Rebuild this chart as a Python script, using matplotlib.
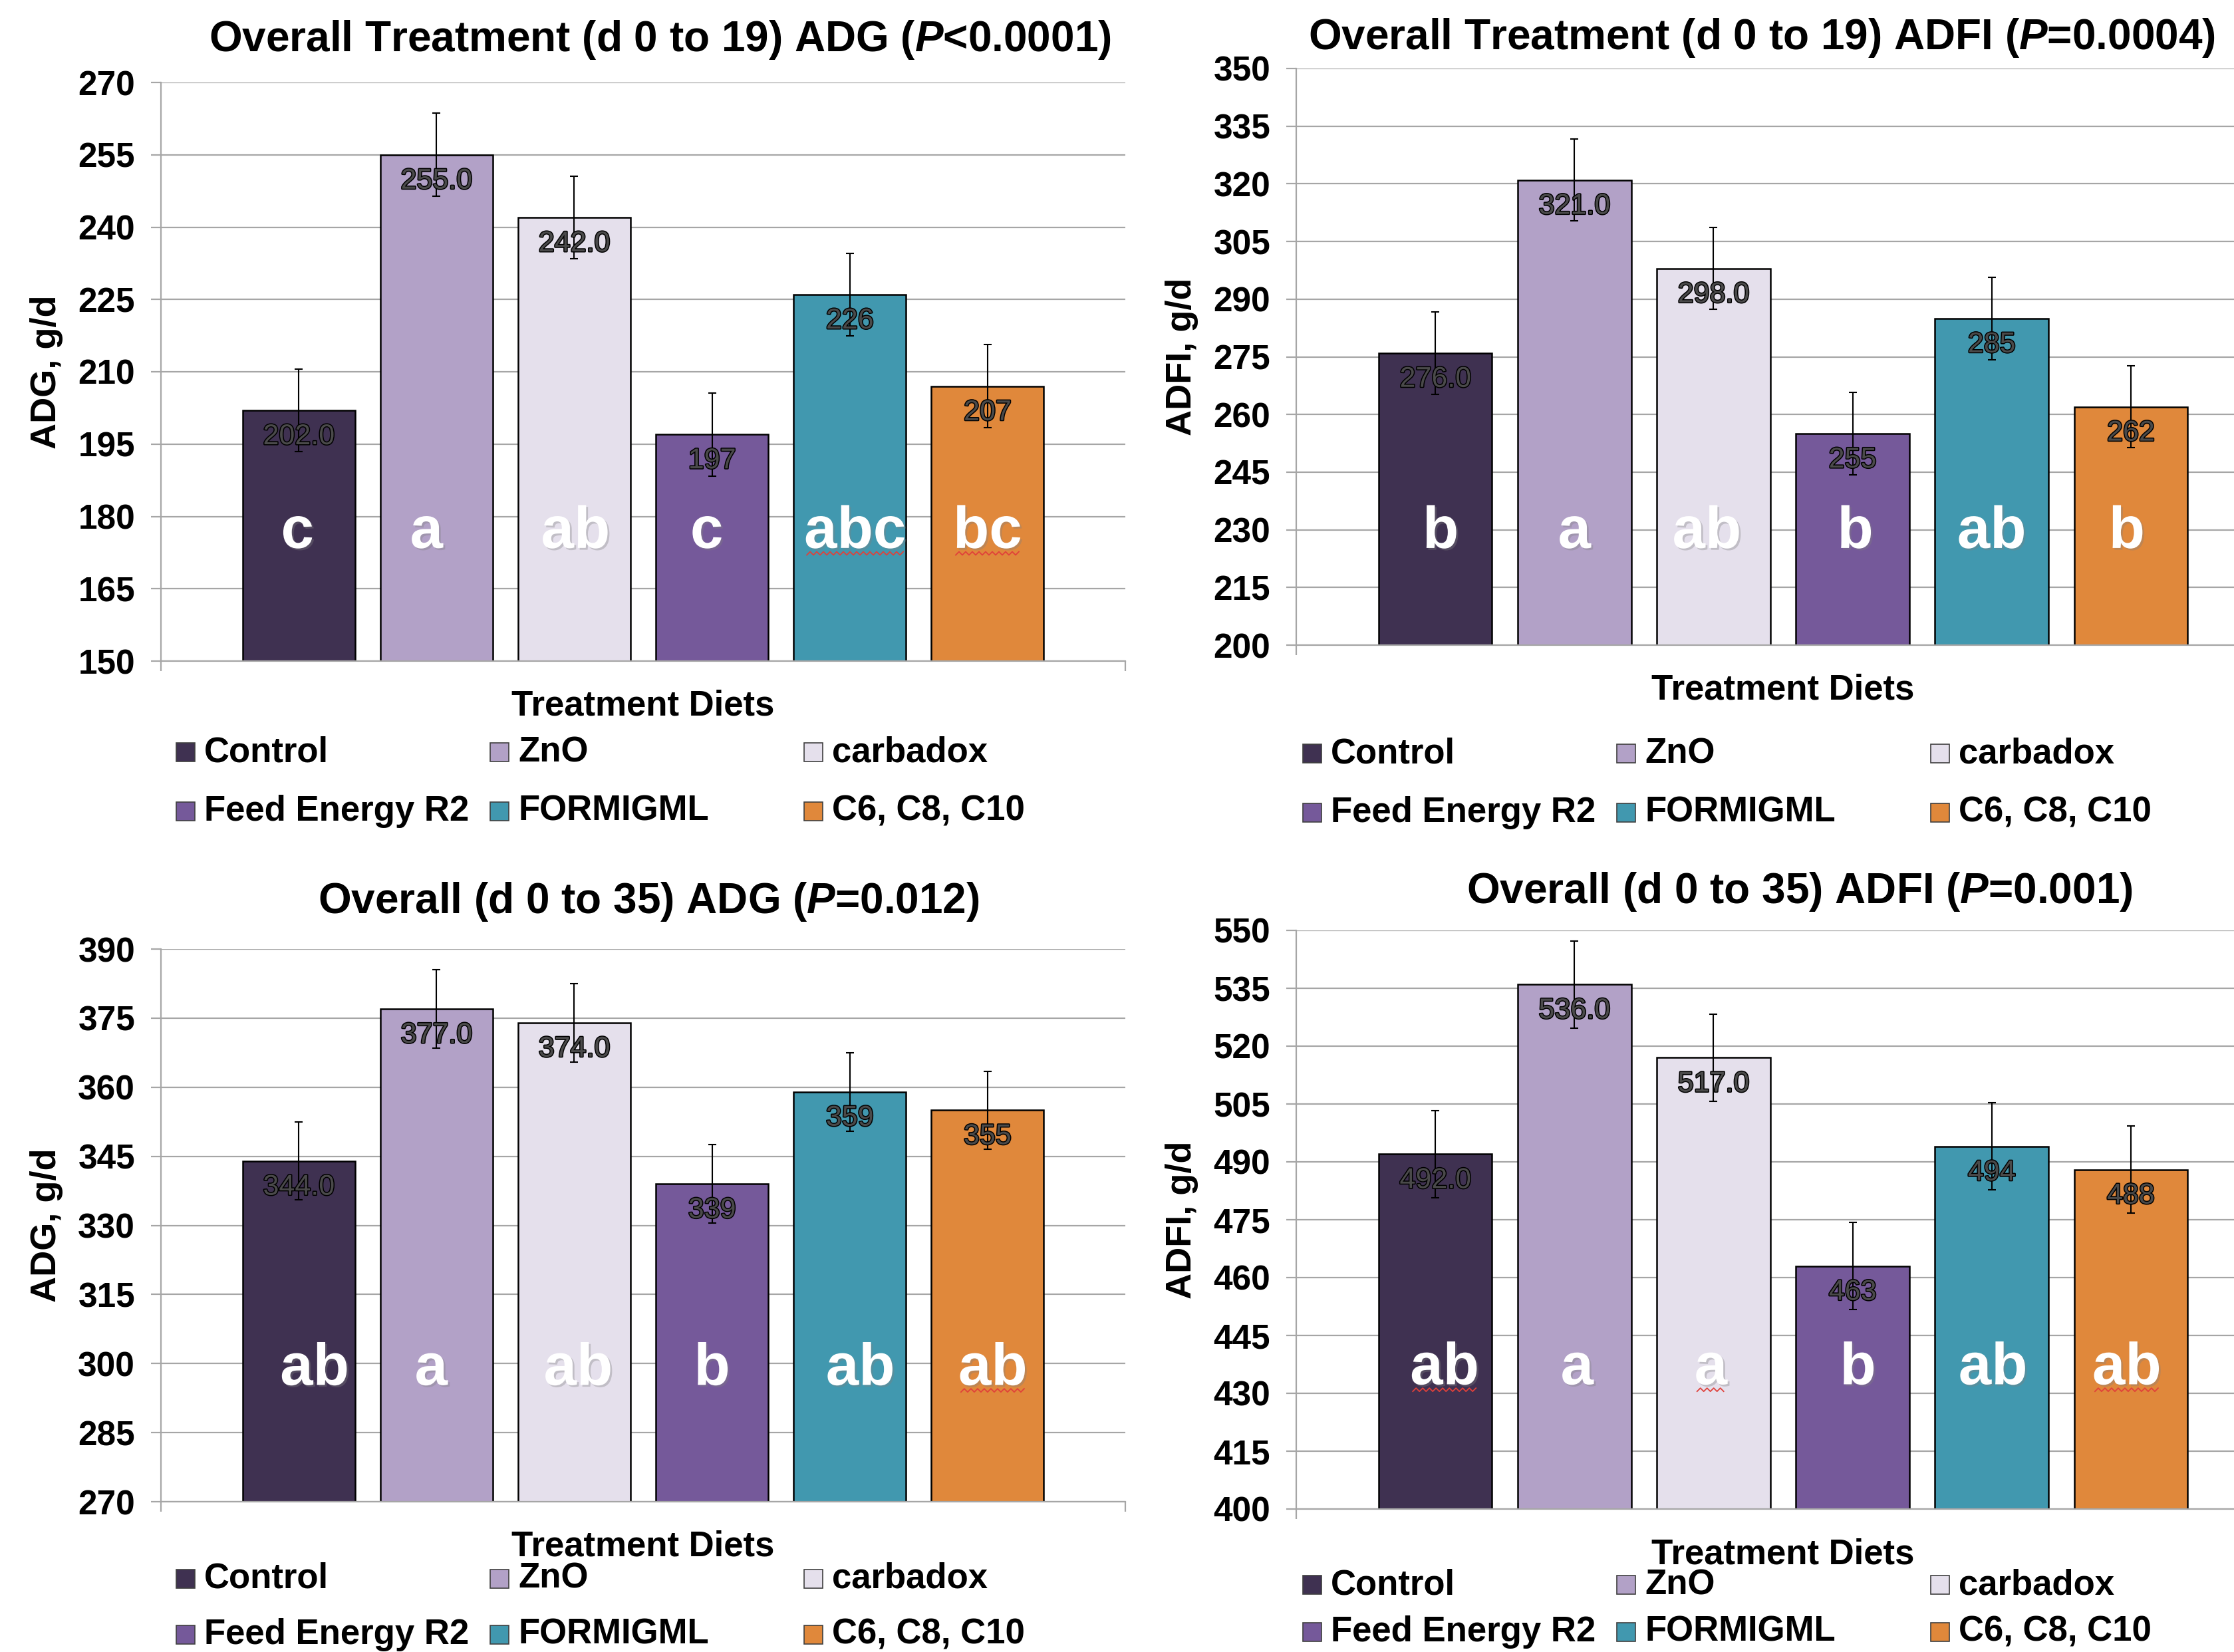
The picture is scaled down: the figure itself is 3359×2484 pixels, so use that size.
import matplotlib
matplotlib.use("Agg")
import matplotlib.pyplot as plt
from matplotlib import font_manager
from matplotlib.patches import Rectangle
from matplotlib.lines import Line2D
import matplotlib.patheffects as pe
import matplotlib.transforms as mtrans

# ---- fonts -------------------------------------------------------------
def pick_family(cands):
    for name in cands:
        try:
            font_manager.findfont(font_manager.FontProperties(family=name),
                                  fallback_to_default=False)
            return name
        except Exception:
            continue
    return "DejaVu Sans"

SANS = pick_family(["Liberation Sans", "Arial"])
plt.rcParams["font.family"] = [SANS, "DejaVu Sans"]
plt.rcParams["font.weight"] = "bold"
plt.rcParams["mathtext.fontset"] = "custom"
plt.rcParams["mathtext.it"] = f"{SANS}:italic:bold"
plt.rcParams["mathtext.rm"] = f"{SANS}:bold"

# ---- data --------------------------------------------------------------
treatments = ["Control", "ZnO", "carbadox", "Feed Energy R2", "FORMIGML", "C6, C8, C10"]
colors = ["#3f3151", "#b2a1c7", "#e5e0ec", "#75599a", "#4198af", "#e0883b"]

adg_0_19 = [202.0, 255.0, 242.0, 197, 226, 207]
adg_0_19_labels = ["202.0", "255.0", "242.0", "197", "226", "207"]
adg_0_19_sem = 8.6
adg_0_19_letters = ["c", "a", "ab", "c", "abc", "bc"]

adfi_0_19 = [276.0, 321.0, 298.0, 255, 285, 262]
adfi_0_19_labels = ["276.0", "321.0", "298.0", "255", "285", "262"]
adfi_0_19_sem = 10.7
adfi_0_19_letters = ["b", "a", "ab", "b", "ab", "b"]

adg_0_35 = [344.0, 377.0, 374.0, 339, 359, 355]
adg_0_35_labels = ["344.0", "377.0", "374.0", "339", "359", "355"]
adg_0_35_sem = 8.5
adg_0_35_letters = ["ab", "a", "ab", "b", "ab", "ab"]

adfi_0_35 = [492.0, 536.0, 517.0, 463, 494, 488]
adfi_0_35_labels = ["492.0", "536.0", "517.0", "463", "494", "488"]
adfi_0_35_sem = 11.3
adfi_0_35_letters = ["ab", "a", "a", "b", "ab", "ab"]

# ---- figure ------------------------------------------------------------
W, H = 3359, 2484
DPI = 100
fig = plt.figure(figsize=(W / DPI, H / DPI), dpi=DPI, facecolor="white")


def box(left, top, right, bottom):
    return [left / W, 1 - bottom / H, (right - left) / W, (bottom - top) / H]


panels = [
    dict(rect=box(242, 124, 1692, 994), values=adg_0_19, labels=adg_0_19_labels,
         sem=adg_0_19_sem, letters=adg_0_19_letters, ylim=(150, 270),
         ylabel="ADG, g/d", title="Overall Treatment (d 0 to 19) ADG ($P$<0.0001)",
         title_xy=(992, 60), letter_y=0.222, letter_dx=[-2, -15, 2, -8, 8, 0],
         squiggle=[False, False, False, False, True, True],
         leg_rows=(137, 226), leg_dx=65),
    dict(rect=box(1949, 103, 3413, 970), values=adfi_0_19, labels=adfi_0_19_labels,
         sem=adfi_0_19_sem, letters=adfi_0_19_letters, ylim=(200, 350),
         ylabel="ADFI, g/d", title="Overall Treatment (d 0 to 19) ADFI ($P$=0.0004)",
         title_xy=(2649, 57), letter_y=0.195, letter_dx=[8, 0, -10, 4, 0, -6],
         squiggle=[False] * 6,
         leg_rows=(163, 252), leg_dx=52),
    dict(rect=box(242, 1427, 1692, 2258), values=adg_0_35, labels=adg_0_35_labels,
         sem=adg_0_35_sem, letters=adg_0_35_letters, ylim=(270, 390),
         ylabel="ADG, g/d", title="Overall (d 0 to 35) ADG ($P$=0.012)",
         title_xy=(975, 1356), letter_y=0.239, letter_dx=[24, -8, 6, 0, 16, 8],
         squiggle=[False, False, False, False, False, True],
         leg_rows=(116, 200), leg_dx=65),
    dict(rect=box(1949, 1399, 3413, 2269), values=adfi_0_35, labels=adfi_0_35_labels,
         sem=adfi_0_35_sem, letters=adfi_0_35_letters, ylim=(400, 550),
         ylabel="ADFI, g/d", title="Overall (d 0 to 35) ADFI ($P$=0.001)",
         title_xy=(2706, 1341), letter_y=0.242, letter_dx=[14, 4, -4, 8, 2, -6],
         squiggle=[True, False, True, False, False, True],
         leg_rows=(114, 185), leg_dx=52),
]

GRID = "#a6a6a6"
positions = list(range(1, len(treatments) + 1))
flagged_letters = []

for p in panels:
    ax = fig.add_axes(p["rect"])
    ax.set_facecolor("white")
    ax.set_xlim(0, len(treatments) + 1)
    ax.set_ylim(*p["ylim"])
    ax.set_yticks(range(p["ylim"][0], p["ylim"][1] + 1, 15))
    ax.yaxis.grid(True, color=GRID, linewidth=1.6)
    ax.set_axisbelow(True)
    for side in ("top", "right"):
        ax.spines[side].set_visible(False)
    for side in ("left", "bottom"):
        ax.spines[side].set_color(GRID)
        ax.spines[side].set_linewidth(1.6)
    ax.tick_params(axis="y", length=11, width=1.6, color=GRID, pad=17,
                   labelsize=37)
    ax.set_xticks([0, len(treatments) + 1])
    ax.set_xticklabels(["", ""])
    ax.tick_params(axis="x", length=11, width=1.6, color=GRID)
    for t in ax.get_yticklabels():
        t.set_fontweight("bold")

    ax.bar(positions, p["values"], width=0.815, color=colors,
           edgecolor="black", linewidth=1.8, zorder=2)
    ax.errorbar(positions, p["values"], yerr=p["sem"], fmt="none",
                ecolor="black", elinewidth=1.5, capsize=4, capthick=1.5, zorder=3)

    # values printed just inside each bar top
    for x, v, lab in zip(positions, p["values"], p["labels"]):
        ax.annotate(lab, (x, v), xytext=(0, -40), textcoords="offset pixels",
                    ha="center", va="center", fontsize=31, fontweight="normal",
                    color="#4a4a4a", zorder=4,
                    path_effects=[pe.Stroke(linewidth=2.2, foreground="black"),
                                  pe.Normal()])

    # significance letters
    tr = mtrans.blended_transform_factory(ax.transData, ax.transAxes)
    for x, letter, dx, sq in zip(positions, p["letters"], p["letter_dx"], p["squiggle"]):
        t = ax.annotate(letter, (x, p["letter_y"]), xycoords=tr,
                        xytext=(dx, 0), textcoords="offset pixels",
                        ha="center", va="center", fontsize=64, fontweight="bold",
                        color="white", zorder=4,
                        path_effects=[pe.withSimplePatchShadow(offset=(2, -2),
                                                               shadow_rgbFace="#808080",
                                                               alpha=0.35)])
        if sq:
            flagged_letters.append(t)

    ax.set_ylabel(p["ylabel"], fontsize=39, fontweight="bold", labelpad=16)

    # x-axis caption
    ax.annotate("Treatment Diets", (0.5, 0), xycoords="axes fraction",
                xytext=(0, -68), textcoords="offset pixels", ha="center",
                va="center", fontsize=38, fontweight="bold")

    # title
    fig.text(p["title_xy"][0] / W, 1 - p["title_xy"][1] / H, p["title"],
             ha="center", va="center", fontsize=46, fontweight="bold")

    # legend: three equal-width columns under the axes
    ax_left = p["rect"][0] * W
    ax_bottom = (1 - p["rect"][1]) * H
    col_w = 472
    sqr = 28
    for i, (name, c) in enumerate(zip(treatments, colors)):
        row, col = divmod(i, 3)
        tx = ax_left + p["leg_dx"] + col * col_w
        ty = ax_bottom + p["leg_rows"][row]
        fig.patches.append(Rectangle(((tx - sqr - 14) / W, 1 - (ty + sqr / 2) / H),
                                     sqr / W, sqr / H, transform=fig.transFigure,
                                     facecolor=c, edgecolor="#404040",
                                     linewidth=1.2))
        fig.text(tx / W, 1 - ty / H, name, ha="left", va="center",
                 fontsize=38, fontweight="bold")

# wavy proofing underline beneath some of the letter groups
fig.canvas.draw()
renderer = fig.canvas.get_renderer()
for t in flagged_letters:
    bb = t.get_window_extent(renderer)
    y0 = bb.y0 + 0.2 * bb.height - 6
    xs, ys = [], []
    x = bb.x0 + 4
    k = 0
    while x <= bb.x1 - 4:
        xs.append(x)
        ys.append(y0 + (2.5 if k % 2 else -2.5))
        x += 5
        k += 1
    fig.add_artist(Line2D(xs, ys, transform=mtrans.IdentityTransform(),
                          color="#e0403a", linewidth=1.3, zorder=10))

fig.savefig("out.png", dpi=DPI, facecolor="white")
